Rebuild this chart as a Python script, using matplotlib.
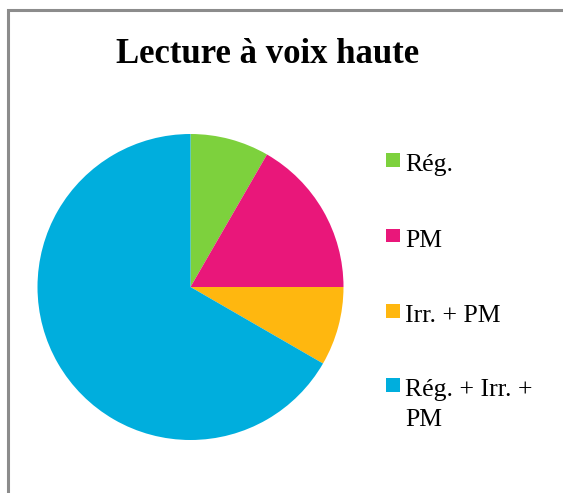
import matplotlib
matplotlib.use("Agg")
import matplotlib.pyplot as plt
from matplotlib.patches import Rectangle

title = "Lecture à voix haute"
labels = ["Rég.", "PM", "Irr. + PM", "Rég. + Irr. +\nPM"]
values = [1, 2, 1, 8]
colors = ["#7DD13D", "#E9177A", "#FFB70F", "#00AEDD"]

W, H = 563, 493
fig = plt.figure(figsize=(W / 100, H / 100), dpi=100)
fig.patch.set_facecolor("white")

def fx(px):
    return px / W

def fy(py):
    return 1 - py / H

# chart frame (top and left edges visible)
frame = Rectangle((fx(8), fy(600)), fx(560), fy(9.5) - fy(600), transform=fig.transFigure,
                  fill=False, edgecolor="#8c8c8c", linewidth=2.2)
fig.add_artist(frame)

# pie
cx, cy, r = 190.5, 287, 153
ax = fig.add_axes([fx(cx - r), fy(cy + r), fx(2 * r), (2 * r) / H])
ax.pie(values, colors=colors, startangle=90, counterclock=False,
       wedgeprops=dict(linewidth=0, edgecolor="none", antialiased=True))
ax.set_xlim(-1, 1)
ax.set_ylim(-1, 1)
ax.set_aspect("auto")
ax.axis("off")

fig.text(fx(268), fy(63), title, ha="center", va="baseline",
         fontsize=25, fontweight="bold", family="Liberation Serif")

# legend
sq_tops = [153, 229, 304, 378]
line_gap = 30
for lab, col, top in zip(labels, colors, sq_tops):
    fig.add_artist(Rectangle((fx(386), fy(top + 13.5)), fx(13.5), 13.5 / H,
                             transform=fig.transFigure, facecolor=col, edgecolor="none"))
    for i, line in enumerate(lab.split("\n")):
        fig.text(fx(405), fy(top + 18 + i * line_gap), line, ha="left", va="baseline",
                 fontsize=18.5, family="Liberation Serif")

fig.savefig("out.png", dpi=100)
